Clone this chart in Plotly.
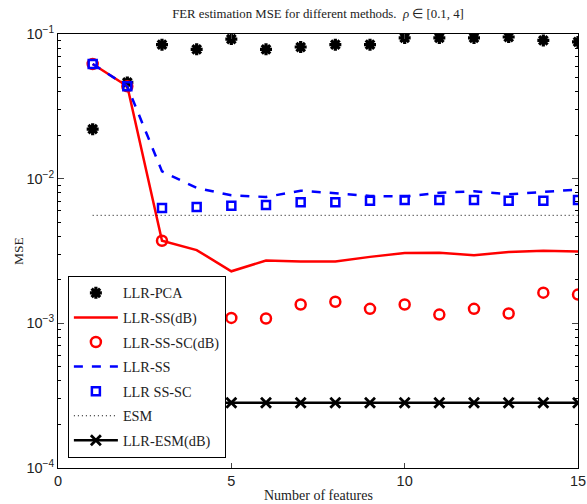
import plotly.graph_objects as go

features = list(range(1, 16))

llr_pca = [0.0220, 0.0463, 0.0844, 0.0783, 0.0923, 0.0783, 0.0813, 0.0844,
           0.0844, 0.0939, 0.0939, 0.0939, 0.0953, 0.0903, 0.0881]
llr_ss_db = [0.0620, 0.0435, 0.00372, 0.00321, 0.00229, 0.00272, 0.00268, 0.00268,
             0.00288, 0.00306, 0.00308, 0.00296, 0.00311, 0.00318, 0.00314]
llr_ss_sc_db = [0.0620, 0.0435, 0.00372, 0.00110, 0.00109, 0.00108, 0.00135, 0.00141,
                0.00126, 0.00135, 0.00115, 0.00126, 0.00117, 0.00163, 0.00158]
llr_ss = [0.0620, 0.0435, 0.01122, 0.00863, 0.00767, 0.00747, 0.00826, 0.00796,
          0.00760, 0.00752, 0.00800, 0.00818, 0.00780, 0.00810, 0.00840]
llr_ss_sc = [0.0620, 0.0435, 0.00627, 0.00637, 0.00650, 0.00658, 0.00686, 0.00686,
             0.00705, 0.00713, 0.00713, 0.00713, 0.00705, 0.00705, 0.00713]
esm = [0.00558] * 15
llr_esm_db = [0.000282] * 15

x_ticks = [0, 5, 10, 15]
y_ticks = [1e-4, 1e-3, 1e-2, 1e-1]
y_ticktext = ["10<sup>−4</sup>", "10<sup>−3</sup>", "10<sup>−2</sup>", "10<sup>−1</sup>"]
y_minor = [m * 10.0 ** e for e in (-4, -3, -2) for m in range(2, 10)]

serif = "Liberation Serif"
sans = "Liberation Sans"

fig = go.Figure()

fig.add_trace(go.Scatter(
    x=features, y=llr_pca, mode="markers", name="LLR-PCA",
    marker=dict(symbol="asterisk-open", size=10, color="black",
                line=dict(color="black", width=3.2))))
fig.add_trace(go.Scatter(
    x=features, y=llr_ss_db, mode="lines", name="LLR-SS(dB)",
    line=dict(color="#ff0000", width=2.5)))
fig.add_trace(go.Scatter(
    x=features, y=llr_ss_sc_db, mode="markers", name="LLR-SS-SC(dB)",
    marker=dict(symbol="circle-open", size=10, color="#ff0000",
                line=dict(color="#ff0000", width=2.5))))
fig.add_trace(go.Scatter(
    x=features, y=llr_ss, mode="lines", name="LLR-SS",
    line=dict(color="#0000ff", width=2.5, dash="dash")))
fig.add_trace(go.Scatter(
    x=features, y=llr_ss_sc, mode="markers", name="LLR SS-SC",
    marker=dict(symbol="square-open", size=8, color="#0000ff",
                line=dict(color="#0000ff", width=2.5))))
fig.add_trace(go.Scatter(
    x=features, y=esm, mode="lines", name="ESM",
    line=dict(color="black", width=1, dash="1px,3px")))
fig.add_trace(go.Scatter(
    x=features, y=llr_esm_db, mode="lines+markers", name="LLR-ESM(dB)",
    line=dict(color="black", width=2.5),
    marker=dict(symbol="x-thin-open", size=10, color="black",
                line=dict(color="black", width=2.8))))

for i, tr in enumerate(fig.data):
    tr.legendgroup = f"g{i}"

fig.update_layout(
    width=587, height=504,
    margin=dict(l=58, r=9, t=34, b=36),
    paper_bgcolor="white", plot_bgcolor="white",
    title=dict(text="FER estimation MSE for different methods.  <i>ρ</i> ∈ [0.1, 4]",
               x=0.5417, xanchor="center", y=0.983, yanchor="top",
               font=dict(family=serif, size=12.8, color="#222")),
    showlegend=True,
    legend=dict(x=0.019, y=0.023, xanchor="left", yanchor="bottom",
                bgcolor="white", bordercolor="black", borderwidth=1,
                font=dict(family=serif, size=14.3, color="#222"),
                tracegroupgap=3, itemwidth=44),
    xaxis=dict(range=[0, 15], tickvals=x_ticks, ticks="inside", ticklen=5,
               showline=True, linecolor="black", linewidth=1, mirror="ticks",
               showgrid=False, zeroline=False, automargin=False,
               tickfont=dict(family=sans, size=14.5, color="#222")),
    yaxis=dict(type="log", range=[-4, -1], tickvals=y_ticks, ticktext=y_ticktext,
               ticks="inside", ticklen=6,
               showline=True, linecolor="black", linewidth=1, mirror="ticks",
               showgrid=False, zeroline=False, automargin=False,
               minor=dict(tickvals=y_minor, ticks="inside", ticklen=3,
                          tickcolor="black", showgrid=False),
               tickfont=dict(family=sans, size=14.5, color="#222")),
    annotations=[
        dict(text="Number of features", xref="paper", yref="paper",
             x=0.5, y=0, xanchor="center", yanchor="top", yshift=-18,
             showarrow=False, font=dict(family=serif, size=14, color="#222")),
        dict(text="MSE", xref="paper", yref="paper", textangle=-90,
             x=0, y=0.5, xanchor="center", yanchor="middle", xshift=-40,
             showarrow=False, font=dict(family=serif, size=13.5, color="#222")),
    ],
)

fig.write_html("out.html")
